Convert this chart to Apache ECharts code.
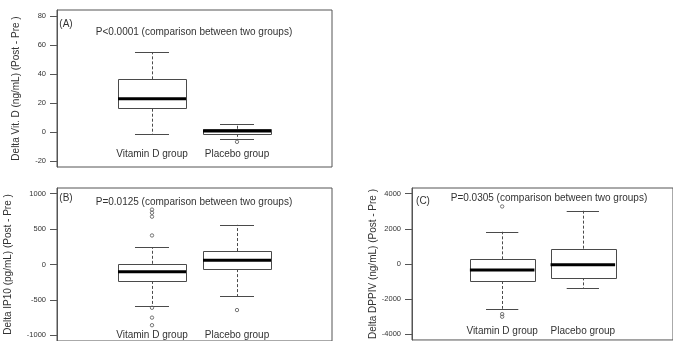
<!DOCTYPE html>
<html>
<head>
<meta charset="utf-8">
<title>Delta boxplots</title>
<script src="https://cdn.jsdelivr.net/npm/echarts@6.0.0/dist/echarts.min.js"></script>
<style>
    html, body { margin: 0; padding: 0; background: #fff; }
    #main { width: 673px; height: 341px; }
</style>
</head>
<body>
<div id="main"></div>
<script>
// group names, x position 1 and 2
var groups = ['Vitamin D group', 'Placebo group'];

// box values: [lower whisker, Q1, median, Q3, upper whisker]
var vitdVitD = [-1.6, 16.1, 23.0, 36.3, 55.0];
var vitdPlacebo = [-5.0, -1.2, 0.7, 2.3, 5.3];
var vitdOutliers = [[2, -6.7]];
var vitdTicks = [-20, 0, 20, 40, 60, 80];

var ip10VitD = [-588, -232, -101, 10, 246];
var ip10Placebo = [-449, -65, 60, 190, 560];
var ip10Outliers = [[1, 775], [1, 730], [1, 675], [1, 410], [1, -611], [1, -750], [1, -857], [2, -643]];
var ip10Ticks = [-1000, -500, 0, 500, 1000];

var dppivVitD = [-2550, -966, -342, 265, 1833];
var dppivPlacebo = [-1391, -762, -44, 872, 3025];
var dppivOutliers = [[1, 3270], [1, -2850], [1, -3000]];
var dppivTicks = [-4000, -2000, 0, 2000, 4000];

var FONT = "'Liberation Sans', Arial, sans-serif";
var LINE = '#4a4a4a';
var TEXT = '#333';

// R style box: dashed whiskers, half width staples, thick median
function renderBox(params, api) {
    var x = api.value(0);
    var lo = api.value(1), q1 = api.value(2), med = api.value(3), q3 = api.value(4), hi = api.value(5);
    var w = 0.4, sw = 0.2;
    var p1 = api.coord([x - w, q3]);
    var p2 = api.coord([x + w, q1]);
    var mid = api.coord([x, med]);
    var top = api.coord([x, hi]);
    var bot = api.coord([x, lo]);
    var q3p = api.coord([x, q3]);
    var q1p = api.coord([x, q1]);
    var s1 = api.coord([x - sw, hi])[0];
    var s2 = api.coord([x + sw, hi])[0];
    var cx = Math.round(mid[0]) + 0.5;
    function hline(xa, xb, y, st) {
        return { type: 'line', shape: { x1: xa, y1: Math.round(y) + 0.5, x2: xb, y2: Math.round(y) + 0.5 }, style: st };
    }
    var solid = { stroke: LINE, lineWidth: 1 };
    var dash = { stroke: LINE, lineWidth: 1, lineDash: [3, 2] };
    return {
        type: 'group',
        children: [
            { type: 'line', shape: { x1: cx, y1: q3p[1], x2: cx, y2: top[1] }, style: dash },
            { type: 'line', shape: { x1: cx, y1: q1p[1], x2: cx, y2: bot[1] }, style: dash },
            hline(s1, s2, top[1], solid),
            hline(s1, s2, bot[1], solid),
            {
                type: 'rect',
                shape: {
                    x: Math.round(p1[0]) + 0.5, y: Math.round(p1[1]) + 0.5,
                    width: Math.round(p2[0] - p1[0]), height: Math.round(p2[1] - p1[1])
                },
                style: { fill: '#fff', stroke: LINE, lineWidth: 1 }
            },
            { type: 'line', shape: { x1: p1[0], y1: mid[1], x2: p2[0], y2: mid[1] }, style: { stroke: '#000', lineWidth: 3 } }
        ]
    };
}

// small open circle for outliers
function renderDot(params, api) {
    var p = api.coord([api.value(0), api.value(1)]);
    return {
        type: 'circle',
        shape: { cx: p[0], cy: p[1], r: 1.7 },
        style: { fill: 'none', stroke: '#555', lineWidth: 0.8 }
    };
}

function boxRows(a, b) {
    return [[1].concat(a), [2].concat(b)];
}

var grids = [
    { left: 57, top: 10, width: 275, height: 157 },
    { left: 57, top: 188, width: 275, height: 156 },
    { left: 412, top: 188, width: 275, height: 156 }
];
grids.forEach(function (g) {
    g.show = true;
    g.borderColor = '#555';
    g.borderWidth = 1;
    g.backgroundColor = 'transparent';
});

var labelMargins = [8, 1, 4];
var xAxes = grids.map(function (g, i) {
    return {
        type: 'value', gridIndex: i, min: -0.1176, max: 3.1176,
        axisLine: { show: false, onZero: false }, axisTick: { show: false }, splitLine: { show: false },
        axisLabel: {
            customValues: [1, 2], inside: true, margin: labelMargins[i],
            fontSize: 10, fontFamily: FONT, color: TEXT,
            formatter: function (v) { return groups[Math.round(v) - 1] || ''; }
        }
    };
});

function yAxis(i, min, max, ticks, name, gap) {
    return {
        type: 'value', gridIndex: i, min: min, max: max,
        name: name, nameLocation: 'middle', nameGap: gap,
        nameTextStyle: { fontSize: 10, fontFamily: FONT, color: TEXT },
        axisLine: { show: true, onZero: false, lineStyle: { color: '#555', width: 1 } },
        splitLine: { show: false },
        axisTick: { show: true, length: 7, customValues: ticks, lineStyle: { color: '#555' } },
        axisLabel: {
            customValues: ticks, margin: 11, fontSize: 7.5, fontFamily: FONT, color: TEXT,
            formatter: function (v) { return String(v); }
        }
    };
}

var yAxes = [
    yAxis(0, -24, 84, vitdTicks, 'Delta Vit. D (ng/mL) (Post - Pre )', 36),
    yAxis(1, -1080, 1080, ip10Ticks, 'Delta IP10 (pg/mL) (Post - Pre )', 44),
    yAxis(2, -4320, 4320, dppivTicks, 'Delta DPPIV (ng/mL) (Post - Pre )', 28)
];

function boxSeries(i, a, b) {
    return {
        type: 'custom', xAxisIndex: i, yAxisIndex: i,
        renderItem: renderBox, encode: { x: 0, y: [1, 2, 3, 4, 5] },
        data: boxRows(a, b), silent: true, z: 2
    };
}
function outlierSeries(i, pts) {
    return {
        type: 'custom', xAxisIndex: i, yAxisIndex: i, data: pts,
        renderItem: renderDot, encode: { x: 0, y: 1 },
        silent: true, z: 3
    };
}

function txt(x, y, s) {
    return {
        type: 'text', x: x, y: y,
        style: { text: s, fontSize: 10, fontFamily: FONT, fill: TEXT, align: 'center', verticalAlign: 'middle' }
    };
}

var chart = echarts.init(document.getElementById('main'));
chart.setOption({
    animation: false,
    grid: grids,
    xAxis: xAxes,
    yAxis: yAxes,
    graphic: [
        txt(66, 24, '(A)'),
        txt(194, 32, 'P<0.0001 (comparison between two groups)'),
        txt(66, 198, '(B)'),
        txt(194, 202, 'P=0.0125 (comparison between two groups)'),
        txt(423, 201, '(C)'),
        txt(549, 198, 'P=0.0305 (comparison between two groups)')
    ],
    series: [
        boxSeries(0, vitdVitD, vitdPlacebo),
        outlierSeries(0, vitdOutliers),
        boxSeries(1, ip10VitD, ip10Placebo),
        outlierSeries(1, ip10Outliers),
        boxSeries(2, dppivVitD, dppivPlacebo),
        outlierSeries(2, dppivOutliers)
    ]
});
</script>
</body>
</html>
